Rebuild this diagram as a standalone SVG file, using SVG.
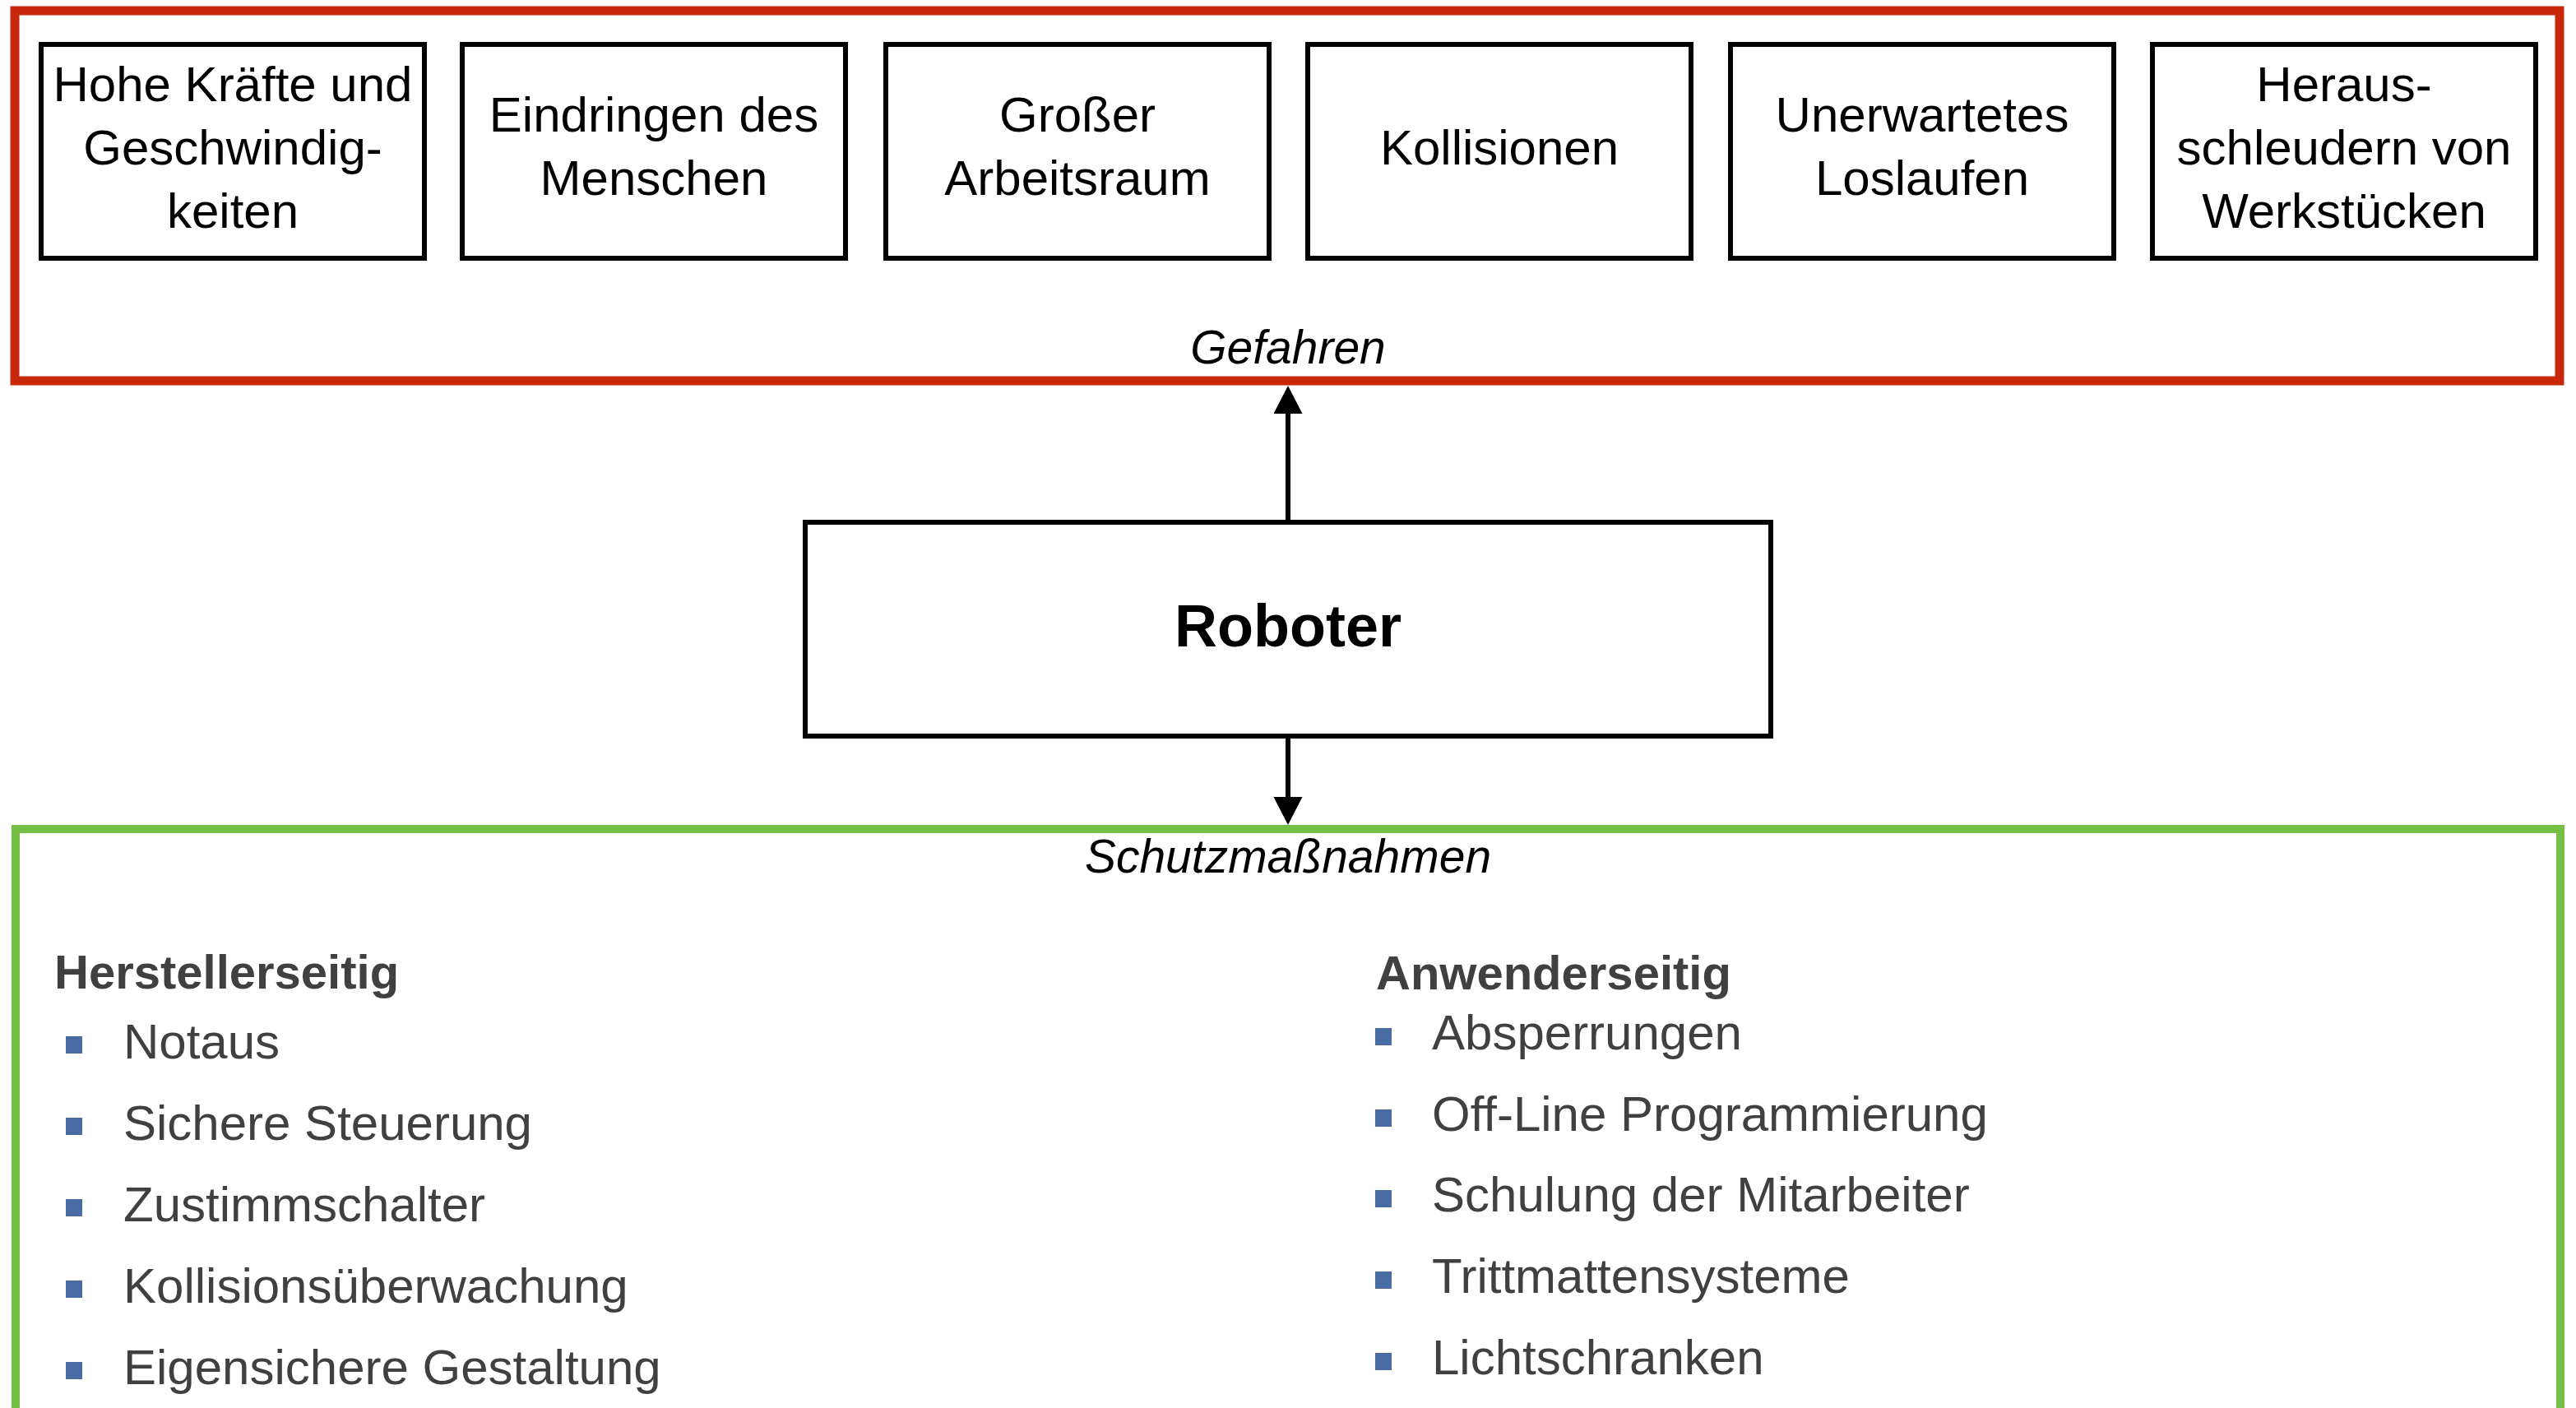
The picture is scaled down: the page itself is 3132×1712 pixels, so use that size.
<svg xmlns="http://www.w3.org/2000/svg" width="3132" height="1712" viewBox="0 0 3132 1712">
<defs>
<style>
.box{fill:#fff;stroke:#000;stroke-width:6}
.bt{font-family:"Liberation Sans",Arial,sans-serif;font-size:60px;fill:#000;text-anchor:middle}
.cap{font-family:"Liberation Sans",Arial,sans-serif;font-size:57px;font-style:italic;fill:#000;text-anchor:middle}
.hd{font-family:"Liberation Sans",Arial,sans-serif;font-size:58px;font-weight:bold;fill:#404040}
.it{font-family:"Liberation Sans",Arial,sans-serif;font-size:60px;fill:#404040}
.bul{fill:#4A6CA4}
.conn{stroke:#000;stroke-width:6;fill:none}
</style>
<marker id="ah" markerUnits="userSpaceOnUse" markerWidth="36" markerHeight="36" refX="0" refY="17.5" orient="auto">
<path d="M0,0 L34,17.5 L0,35 z" fill="#000"/>
</marker>
</defs>
<rect width="3132" height="1712" fill="#fff"/>

<g id="gefahren">
<rect x="18" y="13" width="3094" height="450" fill="none" stroke="#C8280A" stroke-width="11"/>
<text class="cap" x="1566" y="442">Gefahren</text>
</g>

<g id="box1">
<rect class="box" x="50" y="54" width="466" height="260"/>
<text class="bt" x="283" y="123">Hohe Kräfte und</text>
<text class="bt" x="283" y="200">Geschwindig-</text>
<text class="bt" x="283" y="277">keiten</text>
</g>
<g id="box2">
<rect class="box" x="562" y="54" width="466" height="260"/>
<text class="bt" x="795" y="160">Eindringen des</text>
<text class="bt" x="795" y="237">Menschen</text>
</g>
<g id="box3">
<rect class="box" x="1077" y="54" width="466" height="260"/>
<text class="bt" x="1310" y="160">Großer</text>
<text class="bt" x="1310" y="237">Arbeitsraum</text>
</g>
<g id="box4">
<rect class="box" x="1590" y="54" width="466" height="260"/>
<text class="bt" x="1823" y="200">Kollisionen</text>
</g>
<g id="box5">
<rect class="box" x="2104" y="54" width="466" height="260"/>
<text class="bt" x="2337" y="160">Unerwartetes</text>
<text class="bt" x="2337" y="237">Loslaufen</text>
</g>
<g id="box6">
<rect class="box" x="2617" y="54" width="466" height="260"/>
<text class="bt" x="2850" y="123">Heraus-</text>
<text class="bt" x="2850" y="200">schleudern von</text>
<text class="bt" x="2850" y="277">Werkstücken</text>
</g>

<g id="roboter">
<rect class="box" x="979" y="635" width="1174" height="260"/>
<text x="1566" y="786" font-family="'Liberation Sans',Arial,sans-serif" font-size="72" font-weight="bold" text-anchor="middle" fill="#000">Roboter</text>
</g>

<g id="connectors">
<line class="conn" x1="1566" y1="633" x2="1566" y2="503" marker-end="url(#ah)"/>
<line class="conn" x1="1566" y1="897" x2="1566" y2="969" marker-end="url(#ah)"/>
</g>

<g id="schutzmassnahmen">
<rect x="19" y="1008" width="3094" height="800" fill="none" stroke="#74BF44" stroke-width="10"/>
<text class="cap" x="1566" y="1061">Schutzmaßnahmen</text>
</g>

<g id="herstellerseitig">
<text class="hd" x="66" y="1202">Herstellerseitig</text>
<rect class="bul" x="80" y="1260" width="20" height="21"/>
<text class="it" x="150" y="1287">Notaus</text>
<rect class="bul" x="80" y="1359" width="20" height="21"/>
<text class="it" x="150" y="1386">Sichere Steuerung</text>
<rect class="bul" x="80" y="1458" width="20" height="21"/>
<text class="it" x="150" y="1485">Zustimmschalter</text>
<rect class="bul" x="80" y="1557" width="20" height="21"/>
<text class="it" x="150" y="1584">Kollisionsüberwachung</text>
<rect class="bul" x="80" y="1656" width="20" height="21"/>
<text class="it" x="150" y="1683">Eigensichere Gestaltung</text>
</g>

<g id="anwenderseitig">
<text class="hd" x="1673" y="1203">Anwenderseitig</text>
<rect class="bul" x="1672" y="1250" width="20" height="21"/>
<text class="it" x="1741" y="1276">Absperrungen</text>
<rect class="bul" x="1672" y="1349" width="20" height="21"/>
<text class="it" x="1741" y="1375">Off-Line Programmierung</text>
<rect class="bul" x="1672" y="1447" width="20" height="21"/>
<text class="it" x="1741" y="1473">Schulung der Mitarbeiter</text>
<rect class="bul" x="1672" y="1546" width="20" height="21"/>
<text class="it" x="1741" y="1572">Trittmattensysteme</text>
<rect class="bul" x="1672" y="1645" width="20" height="21"/>
<text class="it" x="1741" y="1671">Lichtschranken</text>
</g>
</svg>
